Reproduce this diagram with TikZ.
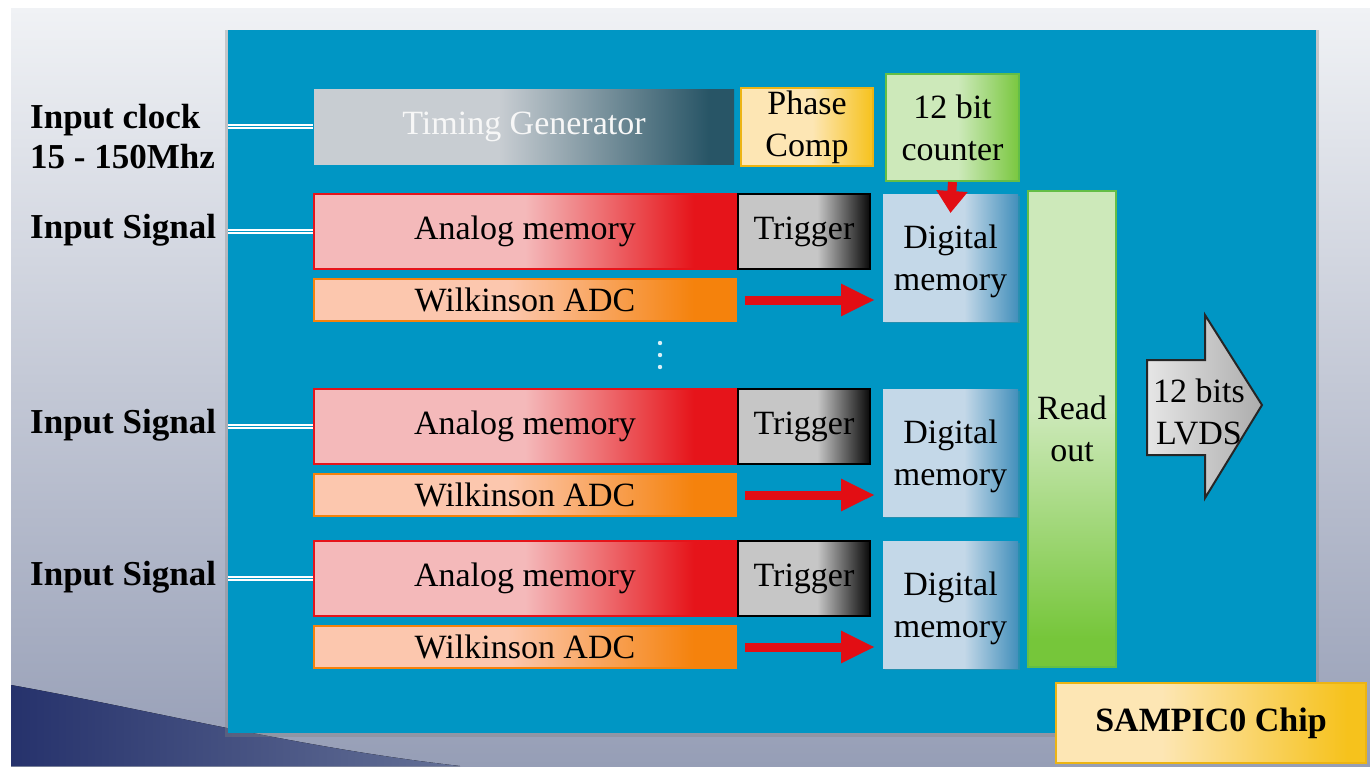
\documentclass[tikz,border=0pt]{standalone}
\usepackage{fontspec}
\setmainfont{Liberation Serif}
\newfontfamily\boxfam{Liberation Serif}
\usetikzlibrary{arrows.meta,shadows}

\definecolor{chipblue}{RGB}{0,150,196}
\definecolor{bgtop}{RGB}{240,242,245}
\definecolor{bgmid}{RGB}{226,229,235}
\definecolor{bgbot}{RGB}{150,158,182}
\definecolor{navydark}{RGB}{38,50,108}
\definecolor{navymid}{RGB}{100,112,150}
\definecolor{tglight}{RGB}{200,205,210}
\definecolor{tgdark}{RGB}{40,85,102}
\definecolor{amlight}{RGB}{244,185,186}
\definecolor{amdark}{RGB}{230,20,26}
\definecolor{adclight}{RGB}{252,199,174}
\definecolor{adcdark}{RGB}{245,130,12}
\definecolor{diglight}{RGB}{196,216,232}
\definecolor{digdark}{RGB}{60,140,185}
\definecolor{trglight}{RGB}{198,198,198}
\definecolor{grnlight}{RGB}{205,233,186}
\definecolor{grndark}{RGB}{118,198,58}
\definecolor{grnedge}{RGB}{100,190,70}
\definecolor{goldlight}{RGB}{253,230,180}
\definecolor{golddark}{RGB}{246,194,28}
\definecolor{goldedge}{RGB}{236,180,20}
\definecolor{arrowred}{RGB}{226,14,20}

% left part light, right end dark (box maps to 25bp..75bp)
\pgfdeclarehorizontalshading{tgshade}{100bp}{color(0bp)=(tglight); color(47bp)=(tglight); color(72bp)=(tgdark); color(100bp)=(tgdark)}
\pgfdeclarehorizontalshading{amshade}{100bp}{color(0bp)=(amlight); color(50bp)=(amlight); color(70bp)=(amdark); color(100bp)=(amdark)}
\pgfdeclarehorizontalshading{adcshade}{100bp}{color(0bp)=(adclight); color(48bp)=(adclight); color(70bp)=(adcdark); color(100bp)=(adcdark)}
\pgfdeclarehorizontalshading{trgshade}{100bp}{color(0bp)=(trglight); color(55bp)=(trglight); color(76bp)=(black); color(100bp)=(black)}
\pgfdeclarehorizontalshading{digshade}{100bp}{color(0bp)=(diglight); color(55bp)=(diglight); color(76bp)=(digdark); color(100bp)=(digdark)}
\pgfdeclarehorizontalshading{pcshade}{100bp}{color(0bp)=(goldlight); color(52bp)=(goldlight); color(75bp)=(golddark); color(100bp)=(golddark)}
\pgfdeclarehorizontalshading{cntshade}{100bp}{color(0bp)=(grnlight); color(52bp)=(grnlight); color(76bp)=(grndark); color(100bp)=(grndark)}
\pgfdeclarehorizontalshading{samshade}{100bp}{color(0bp)=(goldlight); color(42bp)=(goldlight); color(72bp)=(golddark); color(100bp)=(golddark)}
\pgfdeclareverticalshading{roshade}{100bp}{color(0bp)=(grndark); color(28bp)=(grndark); color(52bp)=(grnlight); color(100bp)=(grnlight)}

\newcommand{\boxfont}{\boxfam\fontsize{34}{42}\selectfont}

\tikzset{
  blk/.style={anchor=north west, inner sep=0pt, align=center, line width=2pt, font=\boxfont, shade},
  analog/.style={draw=amdark, shading=amshade, minimum width=422pt, minimum height=75pt},
  trig/.style={draw=black, shading=trgshade, minimum width=132pt, minimum height=75pt},
  digi/.style={draw=none, shading=digshade, minimum width=135pt, minimum height=127pt, text depth=-6pt,
    drop shadow={opacity=0.3, shadow xshift=2pt, shadow yshift=-2pt}},
  adc/.style={draw=adcdark, shading=adcshade, minimum width=422pt, minimum height=42pt},
  dline/.style={draw=white, line width=1.2pt, double=chipblue, double distance=1.8pt},
  redarrow/.style={draw=arrowred, line width=9pt, -{Triangle[length=#1, width=30pt]}},
  redarrow/.default=34pt,
  inlab/.style={anchor=west, align=left, inner sep=0pt, font=\boxfam\fontsize{35}{40}\selectfont\bfseries}
}

\begin{document}
\begin{tikzpicture}[x=1pt,y=-1pt]
\useasboundingbox (0,0) rectangle (1370,766);
\fill[white] (0,0) rectangle (1370,766);

% slide background
\fill[top color=bgtop, middle color=bgmid, bottom color=bgbot] (11,8) rectangle (1370,766);
\fill[left color=navydark, right color=navymid]
  (11,685) .. controls (150,710) and (300,748) .. (460,766) -- (11,766) -- cycle;

% chip body
\node[anchor=north west, fill=chipblue, minimum width=1088pt, minimum height=703pt, inner sep=0pt,
  drop shadow={opacity=0.35, shadow xshift=0pt, shadow yshift=-2pt, shadow scale=1.006}]
  (chip) at (228,30) {};

% top row
\node[blk, shading=tgshade, text=white!94!gray, minimum width=420pt, minimum height=75pt]
  (tg) at (313,88) {Timing Generator};
\node[blk, draw=goldedge, shading=pcshade, minimum width=132pt, minimum height=78pt]
  (pc) at (740,87) {Phase\\Comp};
\node[blk, draw=grnedge, shading=cntshade, minimum width=133pt, minimum height=107pt]
  (cnt) at (885,73) {12 bit\\counter};

\node[inlab] (clk) at (30,137) {Input clock\\15 - 150Mhz};
\draw[dline] (tg.west -| chip.west) -- (tg.west);

% channels
\foreach \i/\y in {1/193,2/388,3/540}{
  \node[inlab] (in\i) at (30,\y+37) {Input Signal};
  \node[blk, analog] (am\i) at (313,\y) {Analog memory};
  \node[blk, trig] (tr\i) at (737,\y) {Trigger};
  \node[blk, digi] (dm\i) at (882,\y) {Digital\\memory};
  \node[blk, adc] (adc\i) at (313,\y+85) {Wilkinson ADC};
  \draw[dline] (am\i.west -| chip.west) -- (am\i.west);
  \draw[redarrow, shorten <=8pt, shorten >=7pt] (adc\i.east) -- (dm\i.west |- adc\i.east);
}

\draw[redarrow=22pt] (cnt.south) -- ([yshift=-20pt]dm1.north);

% dots between channels
\foreach \d in {343,355,367}
  \fill[white!85!chipblue] (660,\d) circle (2.2);

% read out and output
\node[blk, draw=grnedge, shading=roshade, minimum width=88pt, minimum height=476pt]
  (ro) at (1027,190) {Read\\out};

\filldraw[draw=black!85, line width=2pt, left color=gray!20, right color=gray!65]
  (1147,360) -- (1205,360) -- (1205,315) -- (1262,405) -- (1205,498) -- (1205,455) -- (1147,455) -- cycle;
\node[align=center, inner sep=0pt, font=\boxfont] (lvds) at (1199,412) {12 bits\\LVDS};

\node[blk, draw=goldedge, shading=samshade, minimum width=310pt, minimum height=80pt,
  font=\boxfont\bfseries] (sam) at (1055,682) {SAMPIC0 Chip};
\end{tikzpicture}
\end{document}
